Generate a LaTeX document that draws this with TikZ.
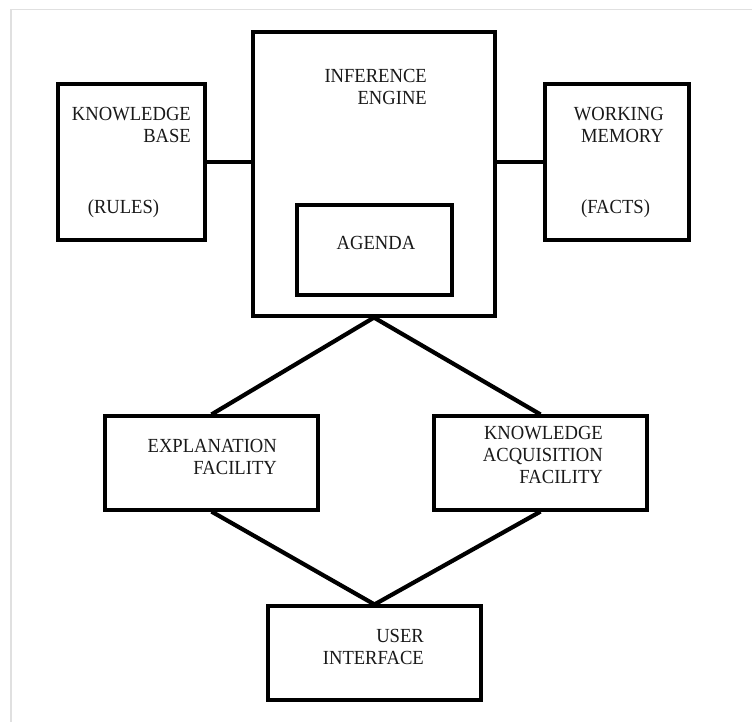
\documentclass[tikz,border=0pt]{standalone}
\usepackage{fontspec}
\setmainfont{Liberation Serif}[FakeStretch=0.93]
\begin{document}
\begin{tikzpicture}[x=1pt,y=-1pt,
  box/.style={draw=black,line width=3.1pt,rectangle,inner sep=0pt},
  conn/.style={draw=black,line width=3.1pt},
  diag/.style={draw=black,line width=4.2pt},
  lbl/.style={inner sep=0pt,font=\fontsize{20}{22}\selectfont,align=right,text=black!90}]
\useasboundingbox (0,0) rectangle (752,722);
\fill[white] (0,0) rectangle (752,722);
\draw[black!12,line width=1.6pt] (11,722) -- (11,9.5) -- (752,9.5);
% boxes
\node[box,minimum width=242pt,minimum height=284pt] (ie) at (374,174) {};
\node[box,minimum width=147pt,minimum height=156pt] (kb) at (131.5,162) {};
\node[box,minimum width=144pt,minimum height=156pt] (wm) at (617,162) {};
\node[box,minimum width=155pt,minimum height=90pt] (ag) at (374.5,250) {};
\node[box,minimum width=213pt,minimum height=94pt] (ef) at (211.5,463) {};
\node[box,minimum width=213pt,minimum height=94pt] (kaf) at (540.5,463) {};
\node[box,minimum width=213pt,minimum height=94pt] (ui) at (374.5,653) {};
% texts
\node[lbl,anchor=north east] (kbt) at (191,107) {KNOWLEDGE\\BASE};
\node[lbl,anchor=base] (kbr) at (123.5,213.5) {(RULES)};
\node[lbl,anchor=north east] (iet) at (427,69) {INFERENCE\\ENGINE};
\node[lbl,anchor=north east] (wmt) at (664,107) {WORKING\\MEMORY};
\node[lbl,anchor=base] (wmf) at (615.5,213.5) {(FACTS)};
\node[lbl,anchor=base] (agt) at (376,249.5) {AGENDA};
\node[lbl,anchor=north east] (eft) at (277,439) {EXPLANATION\\FACILITY};
\node[lbl,anchor=north east] (kaft) at (603,426) {KNOWLEDGE\\ACQUISITION\\FACILITY};
\node[lbl,anchor=north east] (uit) at (424,629) {USER\\INTERFACE};
% connectors
\draw[conn] (kb.east) -- (kb.east -| ie.west);
\draw[conn] (wm.west) -- (wm.west -| ie.east);
\draw[diag] (ef.north) -- (ie.south) -- (kaf.north);
\draw[diag] (ef.south) -- (ui.north) -- (kaf.south);
\end{tikzpicture}
\end{document}
